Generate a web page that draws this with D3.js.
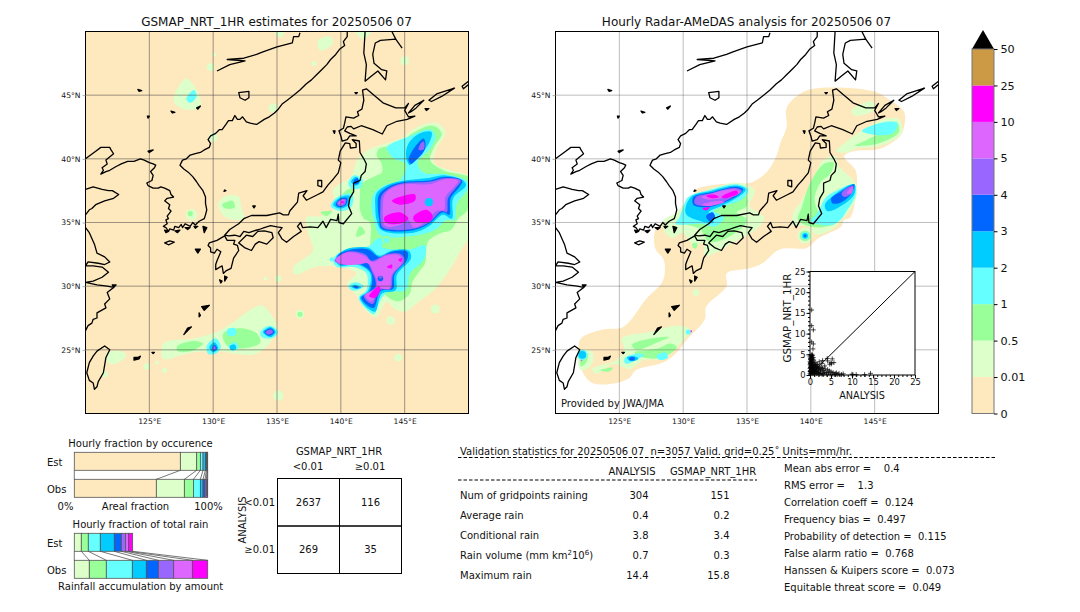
<![CDATA[<!DOCTYPE html>
<html>
<head>
<meta charset="utf-8">
<script src="https://cdnjs.cloudflare.com/ajax/libs/d3/7.8.5/d3.min.js"></script>
<style>
html, body { margin: 0; padding: 0; background: #fff; overflow: hidden; }
svg { display: block; }
text { font-family: "DejaVu Sans", sans-serif; fill: #111; }
</style>
</head>
<body>
<div id="chart"></div>
<script>
// ---- rain classes
var classLabels = ["0", "0.01", "0.5", "1", "2", "3", "4", "5", "10", "25", "50"];
var classColors = ["#FEE8BE", "#DDFFC9", "#99FF99", "#66FFFF", "#00CCFF", "#0066FF", "#9966FF", "#DD66FF", "#FF00FF", "#CC9944"];

var lonTicks = [125, 130, 135, 140, 145];
var latTicks = [25, 30, 35, 40, 45];

// ---- coastline, [lon, lat]
var coastMainland = [[140.5,50],[140.5,49.6],[140.2,49.2],[140.3,48.9],[139.9,48.6],[139.6,48.2],[139.2,47.8],[138.9,47.4],[138.5,47],[138.1,46.6],[137.7,46.2],[137.3,45.9],[136.8,45.4],[136.3,45],[135.8,44.6],[135.4,44.3],[135.1,43.9],[134.8,43.6],[134.4,43.3],[134,43.1],[133.4,42.7],[132.9,42.8],[132.6,42.9],[132.3,43.3],[132.1,43.1],[131.9,43.1],[131.7,43.4],[131.5,43],[131.2,43],[131,42.7],[130.7,42.3],[130.5,42.3],[130.2,42],[129.8,41.8],[129.6,41.5],[129.8,41.2],[129.7,40.9],[129.3,40.7],[129,40.5],[128.6,40.4],[128.2,40.3],[127.9,40],[127.6,39.9],[127.5,39.7],[127.4,39.5],[127.6,39.3],[127.7,39.2],[128.1,38.9],[128.4,38.6],[128.7,38.2],[128.9,37.9],[129.2,37.5],[129.4,37],[129.4,36.5],[129.5,36],[129.4,35.6],[129.3,35.3],[128.9,35.1],[128.6,34.8],[128.4,35],[128.2,34.7],[127.8,34.9],[127.6,34.6],[127.5,34.85],[127.3,34.6],[127,34.7],[126.9,34.4],[126.6,34.5],[126.5,34.3],[126.3,34.6],[126.1,34.7],[126.4,34.9],[126.3,35.2],[126.5,35.3],[126.4,35.5],[126.7,35.9],[126.5,36.1],[126.6,36.4],[126.2,36.7],[126.4,36.9],[126.9,37],[126.7,37.2],[126.6,37.5],[126.2,37.7],[125.9,37.8],[125.7,37.7],[125.3,37.7],[124.9,37.9],[124.8,38.1],[125.2,38.3],[125.3,38.7],[125.1,39],[125.4,39.3],[125.5,39.5],[125.3,39.6],[125,39.7],[124.6,39.9],[124.3,40],[123.8,39.8],[123.3,39.8],[122.8,39.6],[122.4,39.4],[121.9,39.1],[121.6,39],[121.2,38.8],[121.4,39.1],[121.3,39.3],[121.7,39.6],[121.6,39.9],[122.2,40.4],[122,40.7],[121.9,40.9],[121.5,40.9],[121.2,40.9],[120.8,40.6],[120.4,40.3],[120,40]];
var coastShandong = [[120,37.6],[120.6,37.8],[121.3,37.6],[121.8,37.5],[122.1,37.5],[122.6,37.2],[122.2,36.9],[121.5,36.7],[120.8,36.4],[120.5,36.1],[120.3,36],[120,35.6]];
var coastChina = [[120,34.6],[120.3,34.2],[120.7,33.3],[120.9,32.6],[121.5,32.3],[121.9,31.9],[121.5,31.7],[121,31.8],[120.2,31.9],[120,31.6],[120.6,31.6],[121.3,31.5],[121.8,31.1],[121.3,30.7],[120.6,30.4],[120,30.3],[120.9,30.1],[121.7,30],[122.2,29.9],[121.7,29.5],[121.9,29],[121.5,28.6],[121.6,28.3],[120.9,27.9],[120.9,27.5],[120.6,27.4],[120.5,27.1],[120.2,26.9],[120,26.5]];
var coastTaiwan = [[121.5,25.3],[121.9,25],[121.6,24.4],[121.5,23.8],[121.4,23.2],[121,22.5],[120.9,22.1],[120.7,21.9],[120.6,22.4],[120.3,22.6],[120.1,23.2],[120.3,24],[120.6,24.5],[120.9,24.9]];
var coastAmur = [[136.8,49.9],[136.7,49.6],[136.3,49.6],[136.2,49.1],[135,48.8],[133.9,48.4],[133.4,48.2],[132.4,47.9],[131.1,47.8],[132.5,47.7],[131.3,47.4],[130.3,46.9]];
var coastKhanka = [[132,45.2],[132.8,45.3],[132.8,44.8],[132.5,44.6],[132.1,44.8]];
var coastHokkaido = [[141.7,45.4],[142,45.5],[142.6,45],[143.3,44.4],[144.3,44],[145,44],[145.3,44.35],[145,43.8],[145.3,43.3],[145.8,43.35],[145.2,43.1],[144.4,42.95],[143.6,42.6],[143.25,41.95],[142.5,42.3],[141.6,42.6],[141,42.35],[140.8,42.55],[140.5,42.5],[140.3,42.2],[140.7,42],[141.2,41.8],[140.7,41.8],[140.5,41.5],[140.1,41.4],[140,41.8],[139.85,42.2],[140.2,42.4],[140.3,42.8],[140.4,43.3],[141,43.2],[141.4,43.4],[141.3,43.7],[141.65,43.9],[141.8,44.6]];
var coastHonshu = [[130.9,34],[131.2,33.95],[131.7,34],[132.1,33.9],[132.4,34.3],[132.8,34.2],[133.2,34.35],[133.6,34.45],[134,34.6],[134.5,34.75],[135,34.65],[135.4,34.6],[135.1,34.2],[135.4,33.7],[135.75,33.45],[136.3,33.9],[136.9,34.3],[136.6,34.7],[136.85,35],[137,34.6],[137.6,34.65],[138.2,34.6],[138.6,35.1],[138.85,34.6],[139.2,35.25],[139.7,35.15],[139.8,35.65],[139.85,35],[140.2,34.9],[140.85,35.7],[140.6,36.3],[140.7,36.9],[141,37.4],[141,38.1],[141.5,38.3],[141.6,38.7],[141.9,39],[142,39.6],[141.8,40],[141.5,40.5],[141.45,41.4],[140.9,41.5],[141.2,41.2],[141.2,40.9],[140.75,40.85],[140.7,41.2],[140.35,41.25],[139.95,40.6],[139.8,39.9],[140,39.7],[139.8,38.9],[139.4,38.4],[139,37.95],[138.6,37.4],[138.2,37.2],[137.3,36.75],[137.05,37.1],[137.35,37.5],[136.7,37.3],[136.6,36.6],[136,35.9],[135.9,35.6],[135.5,35.6],[135.2,35.75],[134.2,35.55],[133,35.55],[132.4,35.3],[132,34.9],[131.3,34.45]];
var coastKyushu = [[130.9,33.95],[131.1,33.6],[131.7,33.6],[131.6,33.3],[131.9,33.2],[132,32.8],[131.6,32.2],[131.4,31.4],[131,31.2],[130.8,31],[130.7,31.6],[130.2,31.3],[130.2,31.7],[130.3,32],[130.6,32.7],[130.3,32.9],[130.1,32.6],[129.8,32.7],[129.8,33],[129.6,33.2],[129.7,33.4],[130.3,33.6]];
var coastShikoku = [[132,33.4],[132.6,34],[133.1,33.9],[133.5,34.3],[134,34.35],[134.6,34.2],[134.7,33.8],[134.2,33.3],[133.6,33.5],[133.3,33.3],[133,32.8],[132.5,33]];
var coastSakhalinA = [[141.9,50],[141.8,48.3],[142,47.4],[141.9,46.1],[142.4,46.5],[142.9,46.9],[143.5,46.2],[143.6,46.9],[143.2,47],[142.6,47.5],[142.5,48.2],[142.7,49.1],[143.1,49.3],[144.3,49.4],[144.8,48.7]];
var coastSakhalinB = [[144,50],[144.3,49.4]];
// islands drawn as an outline
var outlineIslands = [
  [[138.2,38.3],[138.5,38.3],[138.5,37.8],[138.2,37.9]],
  [[126.2,33.4],[126.6,33.55],[126.95,33.45],[126.5,33.25]],
  [[130.5,30.5],[130.7,30.4],[130.6,30.25]],
  [[145.3,43.6],[145.8,44.2],[146.5,44.6],[145.9,44],[145.5,43.7]],
  [[146.9,44.6],[147.5,45.1],[148.9,45.55],[147.9,44.9],[147.1,44.5]],
  [[149.5,45.7],[150,46.1],[150.2,46],[149.6,45.5]]
];
// islands so small that the line fills them
var tinyIslands = [
  [[129.2,34.7],[129.5,34.6],[129.3,34.2]],
  [[128.6,32.9],[129,32.9],[128.8,32.6]],
  [[130.9,30.8],[131.1,30.7],[130.9,30.4]],
  [[127.7,26.2],[128.3,26.8],[128,26.7],[127.8,26.35]],
  [[129.1,28.4],[129.7,28.5],[129.3,28.1]],
  [[128.9,27.9],[129,27.7],[128.9,27.6]],
  [[125.2,24.8],[125.4,24.8],[125.3,24.7]],
  [[123.8,24.4],[124.1,24.4],[124.3,24.5],[124.2,24.3],[123.8,24.2]],
  [[124.1,45.45],[124.4,45.35],[124.2,45.3]],
  [[126.7,43.75],[127,43.65],[126.8,43.6]],
  [[128.7,44],[129,44.15],[128.8,43.9]],
  [[124.85,43.35],[125,43.35],[124.9,43.2]],
  [[124.9,40.6],[125.3,40.7],[125,40.5]],
  [[141.1,45.2],[141.3,45.2],[141.2,45.1]],
  [[139.4,42.2],[139.55,42.2],[139.5,42]],
  [[146.6,43.95],[146.9,43.95],[146.7,43.8]],
  [[131,37.5],[130.9,37.55],[130.85,37.45]],
  [[133.1,36.3],[133.3,36.3],[133.2,36.15]],
  [[126.2,34.4],[126.5,34.3],[126.3,34.2]],
  [[127,34.35],[127.4,34.4],[127.2,34.2]],
  [[127.8,34.6],[128.2,34.6],[128,34.45]],
  [[128.5,34.7],[128.8,34.7],[128.6,34.55]],
  [[122.1,30.1],[122.4,30.1],[122.2,29.9]]
];

// ---- rain bands of the estimate panel, one list of polygons per class
var estLevel1 = [
  [[142.3,40.8],[143.5,41.2],[144.7,41.6],[146,42.5],[147.6,42.8],[148.2,42],[147.6,41],[147.3,39.7],[148.3,39.2],[150.3,38.4],[150.3,34.4],[149.4,32.8],[148.6,31.4],[147.4,29.8],[146,28.7],[145,28],[144.2,28.2],[143.6,28.8],[142.8,27.6],[142,28],[141.3,29.2],[140.5,30.2],[141.2,31],[140,31.5],[138,31.5],[136.4,30.9],[136.3,31.5],[137.8,32.8],[137.5,34],[137.3,35.4],[138.5,35.5],[139.6,36.2],[139.4,37.6],[140.8,38.6],[141.3,39.9]],
  [[130.4,36.5],[131,37.1],[132,37],[132.2,36.2],[132.4,35.3],[131.2,35.3],[130.6,35.8]],
  [[138.2,49.3],[139.2,49.6],[139.4,49.1],[138.4,48.5]],
  [[141,50.2],[141.8,49.4],[142.4,50.2]],
  [[126.9,44.6],[127.9,46.3],[128.7,45.4],[129,44.1],[127.7,43.9]],
  [[126.1,25.5],[128.5,25.9],[130.5,26.5],[133.7,28.5],[134.2,28.2],[135,26.9],[135,26.4],[133.4,24.7],[130,24.9],[127.9,24.7],[126.1,24.3]],
  [[121.6,24.7],[122.7,24.9],[123.2,24.6],[122.6,24],[121.9,23.9]]
];
var estLevel2 = [
  [[143,40.8],[144.5,41.1],[145.6,42],[147.2,42.6],[147.9,42],[147.3,40.9],[147,39.9],[148,39.1],[150.3,38.4],[150.3,36.6],[149.8,35.8],[149.2,35.3],[148.6,34.4],[147.9,34.2],[146.9,33.6],[146.7,33],[146.6,31.8],[146.1,31.1],[145.6,30.3],[145.4,29.4],[144.5,28.8],[143.6,29.2],[142.6,30.5],[142.3,33],[142.3,35],[141.8,35.3],[141.5,36],[141.5,37],[141.6,38],[142.6,38.6],[143.2,38.9],[143.2,39.6],[142.8,40.3]],
  [[130.7,36.4],[131.5,36.7],[131.7,36.2],[131,36.1]],
  [[130.8,26.3],[132.1,26.7],[133.4,26.3],[133.7,25.6],[132.9,25.2],[131.3,25.2],[130.8,25.8]],
  [[127.2,25.3],[128.5,25.7],[129.2,25.5],[128.3,24.9],[127.2,24.9]],
  [[139.9,36],[140.7,36.9],[141.1,37.7],[140.4,37.5],[139.8,36.5]],
  [[141.5,34.7],[141.9,34.2],[141.2,33.9]],
  [[138.4,35.8],[139.3,35.9],[138.9,35.5]]
];
var estLevel3 = [
  [[143.6,40.9],[145.7,41.9],[147,42.3],[147.4,41.8],[147,40.8],[146,39.7],[146.5,38.9],[148.1,38.8],[149.8,38.3],[150.1,37.9],[149.1,36.5],[148.9,35.2],[148.3,35.2],[147.3,34.4],[145.2,33.9],[143.1,34],[142.6,35.2],[142.4,36.3],[142.6,37.3],[143.4,37.9],[144.7,38.4],[145.1,39.6],[144.2,40],[143.8,40.4]],
  [[139.4,32.1],[140.2,32.8],[142.3,33.2],[142.8,33.7],[143.6,33.7],[143.2,33.1],[145.4,32.9],[146.6,33.2],[146.5,32.1],[145.4,31],[145.1,29.7],[143.6,29.5],[143,28.7],[142.6,27.8],[142,28.2],[141.4,29.1],[142,29.7],[142,31],[141,31.5],[139.7,31.5]],
  [[139.2,36.3],[139.9,37.1],[140.9,37.2],[140.8,36.2],[140,35.9]],
  [[140.6,38.1],[141,38.7],[141.7,38.4],[141.5,37.7],[140.8,37.7]],
  [[131.1,26.6],[131.7,26.7],[131.8,26.2],[131.2,26.1]],
  [[131.2,25.3],[131.7,25.6],[132,25.2],[131.5,24.9]],
  [[129.5,25.3],[130.2,25.9],[130.6,25.2],[130.2,24.7],[129.6,24.7]],
  [[133.7,26.4],[134.4,26.9],[135.1,26.4],[134.6,25.9],[133.8,26]],
  [[127.9,44.7],[128.5,45.4],[128.7,44.9],[128.2,44.4]],
  [[140.6,30],[141.1,30.3],[141.8,30],[141.3,29.7],[140.8,29.7]]
];
var estLevel4 = [
  [[145.3,41.2],[146.2,42],[147.1,42.1],[146.9,41.2],[145.8,39.9],[145.4,39.5],[145.1,40.2]],
  [[142.8,37.3],[143.8,38],[145,38.3],[146.9,38.5],[148.2,38.7],[149.6,38.3],[149.8,37.9],[148.8,36.9],[148.7,35.3],[148,35.6],[146.9,34.7],[145.7,34.2],[143.2,34.4],[142.8,35.2],[142.7,36.2]],
  [[139.6,32.2],[140.4,32.9],[142.2,33],[143,32.4],[144,32.8],[145.3,32.8],[145.5,32.2],[144.4,30.9],[144.3,29.7],[143.2,29.4],[142.7,28],[142.2,28.2],[141.5,29.1],[142.1,29.6],[142.3,31],[141.2,31.7],[139.9,31.6]],
  [[139.4,36.4],[140,37],[140.7,37.1],[140.6,36.4],[139.9,36.1]],
  [[140.8,38.2],[141.2,38.6],[141.5,38.2],[141.2,37.9]],
  [[129.7,25.2],[130.1,25.6],[130.4,25.1],[130,24.8]],
  [[133.9,26.4],[134.5,26.8],[134.9,26.4],[134.5,26]],
  [[131.3,25.3],[131.7,25.4],[131.8,25.1],[131.4,25]],
  [[140.8,30],[141.2,30.1],[141.6,29.9],[141.1,29.8]]
];
var estLevel5 = [
  [[145.3,39.9],[145.7,40.8],[146.5,41.6],[146.6,40.8],[145.9,39.9],[145.5,39.6]],
  [[143,37.2],[143.9,37.9],[145,38.2],[146.9,38.3],[148.2,38.6],[149.5,38.3],[149.3,37.8],[148.6,36.9],[148.5,35.6],[148,35.8],[146.9,34.9],[145.7,34.4],[143.2,34.5],[143,35.3],[142.9,36.2]],
  [[139.7,32.3],[140.5,32.8],[142.1,32.9],[143,32.3],[144,32.7],[145.2,32.7],[145.2,32.1],[144.2,30.9],[144.1,29.8],[143.1,29.6],[142.6,28.3],[142.2,28.4],[141.6,29.1],[142.2,29.5],[142.4,31],[141.3,31.8],[140,31.7]],
  [[139.6,36.4],[140,36.9],[140.5,36.9],[140.4,36.4],[139.9,36.2]],
  [[129.9,25.1],[130.1,25.4],[130.3,25.1],[130,24.9]],
  [[134,26.4],[134.5,26.7],[134.8,26.4],[134.4,26.1]],
  [[141,30],[141.3,30],[141.4,29.85],[141.1,29.85]],
  [[141,38.3],[141.3,38.5],[141.4,38.1],[141.1,38]]
];
var estLevel6 = [
  [[146.1,40.7],[146.25,41.2],[146.5,41.35],[146.5,40.75]],
  [[143.2,37.1],[144,37.8],[145,38.1],[146.9,38.2],[148.2,38.5],[149.4,38.3],[149,37.7],[148.4,36.9],[148.3,35.8],[147.9,35.9],[146.9,35],[145.7,34.5],[143.3,34.6],[143.1,35.3],[143.1,36.2]],
  [[139.5,32],[140.5,32.7],[141.9,32.5],[142.4,32],[143.6,32.5],[144.7,32.5],[145,32],[144.1,30.9],[143.9,29.8],[143,29.7],[142.5,28.6],[141.8,29.2],[142.7,29.9],[142.7,30.5],[142.4,31.2],[142.1,31.8],[141.4,31.8],[140.1,31.7]],
  [[139.7,36.5],[140,36.8],[140.4,36.8],[140.3,36.4],[139.9,36.3]],
  [[134.1,26.4],[134.5,26.6],[134.7,26.4],[134.3,26.2]],
  [[129.95,25.1],[130.1,25.3],[130.2,25.1],[130,25]]
];
var estLevel7 = [
  [[143.4,37.1],[144,37.7],[145,38],[146.9,38],[148.2,38.4],[149.2,38.3],[148.8,37.7],[148.2,37],[148.1,36],[147.5,35.9],[146.7,35.1],[145.7,34.6],[145.3,35.2],[144.6,34.8],[143.5,34.7],[143.3,35.5],[143.3,36.3]],
  [[139.6,32.05],[140.5,32.65],[141.8,32.4],[142.5,31.9],[143.6,32.4],[144.6,32.4],[144.8,31.9],[144,30.9],[143.8,29.8],[143,29.8],[142.4,28.8],[141.9,29.3],[142.8,29.9],[142.8,30.5],[142.5,31.2],[142.1,31.8],[141.4,31.7],[140.2,31.7]],
  [[139.8,36.5],[140.1,36.8],[140.3,36.7],[140.1,36.4]]
];
var estLevel8 = [
  [[144,36.7],[145.8,37.2],[145.8,36.7],[144.6,36.4]],
  [[143.4,35.4],[144.6,35.8],[145.3,35.3],[144.6,34.9],[143.5,35]],
  [[145.7,35.5],[146.7,36],[147.2,35.5],[147,35.1],[146,35],[145.7,35.2]],
  [[142.2,29.2],[143,30],[143.1,29.7],[142.7,29.1]],
  [[143.6,31.5],[144,31.7],[144,31.4]],
  [[144.5,32.1],[144.8,32.2],[144.7,31.9]],
  [[140,36.6],[140.2,36.7],[140.2,36.5]]
];
// [class, lon, lat, radius in degrees], small cells on top of the bands
var estSpots = [
  [1, 130, 41.7, 0.35], [1, 134.7, 44, 0.35], [1, 137.9, 47.5, 0.2], [1, 129.8, 47.2, 0.3], [1, 130.1, 48.2, 0.15],
  [1, 145, 47.7, 0.35], [1, 135.1, 21.4, 0.4], [1, 144.5, 24.4, 0.3], [1, 147.4, 28.2, 0.35], [1, 143.9, 27.3, 0.35],
  [1, 136.8, 27.8, 0.35], [2, 136.8, 27.8, 0.2], [1, 135.1, 30.6, 0.25], [1, 134.1, 30.6, 0.15], [1, 124.8, 23.7, 0.25],
  [1, 125.6, 24, 0.15], [1, 126.2, 23.4, 0.2], [1, 128.3, 35.6, 0.45], [1, 135.2, 49.9, 0.35], [1, 121.5, 23.1, 0.25],
  [2, 128.2, 35.7, 0.2], [2, 143.6, 33.6, 0.35], [3, 143.6, 33.6, 0.2], [3, 139.3, 32.1, 0.18],
  [5, 146.9, 36.6, 0.25], [4, 146.9, 36.6, 0.32], [5, 143.1, 30.6, 0.22], [6, 143.1, 30.7, 0.1]
];

// ---- rain bands of the radar panel
var obsCoverage = [
  [[138.1,44],[139,45],[140.2,45.5],[144.9,45.3],[146.2,44.6],[147.3,43.7],[147.3,42.5],[147,41.8],[145.4,40.8],[143.3,40.6],[142.6,40.2],[143.5,39.1],[143.6,37.8],[143.1,35.4],[142.6,35.2],[142.4,34.7],[140.5,33.7],[139.7,33],[137.6,32.9],[136.2,31.8],[135.2,31.4],[133.4,31],[133.4,30],[131.8,28.4],[131.7,27.4],[130.2,25.7],[129.5,24.8],[128.4,24],[126.3,23.4],[125.8,22.8],[124.8,22.4],[122.9,22.4],[122,23.5],[121.8,25],[122,25.9],[123.7,26.6],[125.3,26.8],[127.1,29],[128.4,30.4],[128.5,32],[127.8,33],[127.9,34.6],[129.2,35.4],[130.8,37.1],[131,37.6],[134.2,38.1],[135.2,38.1],[136.5,38.9],[137.3,40.2],[137.6,41.2],[138.1,42.5]]
];
var obsLevel1 = [
  [[141,39.9],[141.9,40.2],[142.2,39.4],[143.5,38.1],[143.6,37.1],[142.8,35.6],[142.4,35.2],[142,34.7],[140.5,34.05],[139.7,34.7],[138.6,34.8],[138.6,35.7],[138.8,36.1],[139.2,36.6],[140.2,38.4]],
  [[130.8,37],[132.6,37.8],[134.5,38.1],[135.6,37.5],[135.2,36.3],[136.3,35.5],[136.3,35.2],[135.8,34.5],[133.9,33.4],[132.9,32.8],[131.7,32.4],[131.6,33.4],[130.8,33.3],[129.9,34.2],[129.2,33.8],[128.6,34.2],[128.4,35.1],[129.5,35.8],[130,36.4]],
  [[142,40.6],[142.6,41.2],[143.5,41.9],[145.7,43.1],[146.9,43.1],[147.1,42],[145.4,41],[143.5,40.8],[142.8,40.5]],
  [[143.2,43.8],[144.8,44.5],[145,43.9],[143.4,43.4]],
  [[125.2,25.9],[127.4,26.4],[129.5,26.9],[130.5,26.6],[129.7,25.4],[128.4,24.3],[126.9,24.2],[125.8,23.5],[124.5,23.9],[123.2,23.1],[122.9,23.5],[124.8,24.2],[125.4,25]],
  [[121.8,25],[122.9,24.8],[122.8,23.8],[122,23.4]]
];
var obsLevel2 = [
  [[141,39.6],[141.8,39.7],[141.5,38.8],[140.8,38.2],[140.3,36.8],[140.8,35.6],[142,35],[140.5,34.6],[139,35.2],[139.3,36.2],[139.9,38]],
  [[143.4,41],[145,41.8],[146.7,42.9],[146.9,42.1],[145.3,41.2],[143.5,41]],
  [[130,35.8],[131,36.5],[133,37],[134.7,37.6],[135,36.3],[134.2,35.8],[135,35.2],[134.5,34.5],[133,33.6],[132,33.5],[131.3,34.5],[130,35]],
  [[126.2,24.8],[128,25.1],[129,25.5],[129.5,25.2],[128.4,24.4],[126.9,24.4]],
  [[130.8,33.2],[131.1,33.4],[131,32.9]],
  [[126,25.4],[127.6,25.9],[128.9,26],[128,25.6],[126.3,25]],
  [[122,24.9],[122.5,24.7],[122.4,24],[122,23.7]],
  [[123.5,23.4],[124.5,23.6],[124.2,23.3]]
];
var obsLevel3 = [
  [[130.4,37],[132.2,37.6],[134.2,38],[135.1,37.6],[134.7,36.9],[133,36.2],[132.4,35.9],[133.2,35.4],[132.5,34.7],[131.4,34.9],[129.4,34.9],[129.7,35.4],[130,36.2]],
  [[140.5,35.7],[141.2,37],[142,37.5],[143.4,38],[143.5,37.1],[142.8,35.9],[142.4,35.3],[141.6,34.8],[140,35.1]],
  [[144,42.2],[145.8,42.9],[146.8,42.8],[146.4,42],[144.9,41.9]],
  [[125.4,24.3],[126.3,24.7],[126.9,24.6],[126.3,24.2],[125.5,23.9]],
  [[127.9,24.5],[128.6,24.8],[128.8,24.4],[128.2,24.2]]
];
var obsLevel4 = [
  [[130.6,37],[132.2,37.5],[134.2,37.9],[134.9,37.6],[134.3,37],[133,36.3],[132,35.8],[132.4,35],[131.4,35.1],[130.2,35.7]],
  [[141.1,36.4],[142,37.3],[143.4,38],[143.4,37.2],[142.2,36.2],[141.3,35.9]],
  [[125.6,24.4],[126.2,24.5],[126.5,24.3],[125.9,24.1]]
];
var obsLevel5 = [
  [[130.8,37],[132.3,37.4],[134.1,37.8],[134.7,37.6],[134.1,37],[133,36.5],[131.9,36.2],[130.8,36.4]],
  [[131.8,35.5],[132.3,35.8],[132.5,35.4],[132.1,35.1]],
  [[141.6,36.9],[142.3,37.4],[143.4,38],[143.2,37.3],[142.4,36.6],[141.7,36.5]],
  [[125.8,24.4],[126.2,24.4],[126.2,24.2],[125.8,24.2]]
];
var obsLevel6 = [
  [[131,37],[132.2,37.3],[134,37.7],[134.6,37.5],[133.9,37],[133.1,36.6],[131.8,36.3],[130.9,36.5]],
  [[142.4,37.3],[143.3,37.9],[143.2,37.3],[142.6,37]]
];
var obsLevel7 = [
  [[131.4,37],[132.3,37.3],[133,37.5],[134.1,37.6],[134.5,37.4],[133.8,37],[133,36.9],[131.9,36.8]],
  [[131.5,36.4],[132.8,36.7],[133.2,36.6],[132,36.3]],
  [[142.8,37.3],[143.3,37.8],[143.2,37.3]],
  [[122,25],[122.3,24.9],[122.2,24.6]],
  [[122,24.4],[122.2,24.3],[122,24.1]]
];
var obsLevel8 = [
  [[131.8,37.1],[132.4,37.2],[132.8,37],[132.2,36.9]],
  [[133,37],[134.2,37.5],[134.3,37.3],[133.7,37],[133.2,36.9]],
  [[131.5,36.1],[132.1,36.2],[131.8,35.95]],
  [[122,24.9],[122.2,24.85],[122.1,24.7]],
  [[130.5,26.5],[130.7,26.5],[130.6,26.35]]
];
var obsSpots = [
  [1, 139.55, 33.96, 0.6], [2, 139.55, 33.96, 0.42], [3, 139.55, 33.96, 0.3], [4, 139.55, 33.96, 0.22], [5, 139.55, 33.96, 0.1],
  [1, 131, 29.5, 0.25], [2, 130.9, 33.2, 0.2], [3, 130.4, 26.4, 0.2], [3, 122.1, 24.6, 0.4], [4, 122.1, 24.6, 0.3]
];

// ---- scatter of the inset, [analysis, gsmap]
var scatterPoints = [[0.4,15.7],[0.4,11.9],[0.8,10.9],[0.4,8],[0.8,7.5],[0.7,6.3],[14.4,0.4],[13,0.1],[10.2,0.1],[10,0.2],[11,0.1],[5.3,3.9],[4.1,4],[5.7,3],[5.1,2.7],[4.7,2.6],[5,3],[4.2,3.4],[3,3.5],[2.8,2.8],[3.5,2.2],[2.2,3.2],[7.9,0.3],[7.5,0.1],[6.9,0.4],[6.3,0.5],[6,0.4],[5.5,0.6],[5,0.8],[4.6,1],[4.2,1.3],[3.9,0.6],[3.6,1.5],[3.2,1.1],[3,0.4],[2.7,1.8],[2.5,0.9],[2.3,1.5],[2.1,2.1],[2,0.6],[1.9,1.2],[1.8,2.5],[1.6,0.3],[1.5,1.7],[1.4,0.9],[1.3,2.3],[1.2,3.1],[1.1,1.4],[1,0.5],[1,2.7],[0.9,3.6],[0.9,1],[0.8,4.2],[0.8,2],[0.7,0.3],[0.7,1.5],[0.7,3],[0.6,4.7],[0.6,3.8],[0.6,2.4],[0.6,0.7],[0.5,5],[0.5,4.3],[0.5,3.3],[0.5,1.9],[0.5,1.1],[0.4,4.6],[0.4,3.9],[0.4,2.9],[0.4,2.1],[0.4,1.3],[0.4,0.4],[0.3,4.8],[0.3,3.5],[0.3,2.6],[0.3,1.7],[0.3,0.8],[0.2,4.1],[0.2,3.1],[0.2,2.3],[0.2,1.5],[0.2,0.6],[0.1,3.7],[0.1,2.8],[0.1,1.9],[0.1,1.1],[0.1,0.2],[0,4.4],[0,3.2],[0,2.5],[0,1.6],[0,0.9],[0,0.3],[1.1,0.2],[1.3,0.7],[1.6,1],[1.8,0.5],[2.2,0.2],[2.4,0.4],[2.8,0.2],[3.3,0.3],[3.5,0.7],[4,0.2],[4.4,0.5],[4.8,0.2],[5.3,0.2],[5.8,0.1],[6.6,0.1],[1.2,1.9],[1.5,2.6],[0.9,2.4],[1,1.7],[0.8,0.8],[0.6,1.5],[1.4,1.4],[1.7,1.9],[2,1.5],[2.6,1.3],[3,1.6]];
var scatterTicks = [0, 5, 10, 15, 20, 25];
var scatterMinor = d3.range(0, 26);

// ---- bottom left fractions, percent of the bar per class
var occurEst = [79.5, 12.25, 2.75, 2, 1.75, 0.8, 0.5, 0.3, 0.15];
var occurObs = [61.5, 21, 6.8, 5.2, 2, 1.5, 1, 0.7, 0.3];
var rainEst = [5.25, 5.25, 9, 10.5, 5.25, 3.25, 2.25, 3];
var rainObs = [11.25, 12.75, 19.5, 10.5, 9, 11.5, 14, 11.5];

// ---- tables
var contingency = [[2637, 116], [269, 35]];
var statRows = ["Num of gridpoints raining", "Average rain", "Conditional rain", "Rain volume", "Maximum rain"];
var statAnalysis = ["304", "0.4", "3.8", "0.7", "14.4"];
var statGsmap = ["151", "0.2", "3.4", "0.3", "15.8"];
var scoreRows = ["Mean abs error =    0.4", "RMS error =    1.3", "Correlation coeff =  0.124", "Frequency bias =  0.497", "Probability of detection =  0.115", "False alarm ratio =  0.768", "Hanssen & Kuipers score =  0.073", "Equitable threat score =  0.049"];

var svg = d3.select("#chart").append("svg").attr("width", 1080).attr("height", 612);
var defs = svg.append("defs");

function label(g, x, y, s, size, anchor) {
  return g.append("text").attr("x", x).attr("y", y).attr("font-size", size)
    .attr("text-anchor", anchor || "start").attr("xml:space", "preserve").text(s);
}

// one map panel
function drawMap(id, left, title, background, coverage, levels, spots, gridColor) {
  var x = d3.scaleLinear().domain([120, 150]).range([left, left + 383]);
  var y = d3.scaleLinear().domain([20, 50]).range([413.5, 31.5]);
  var g = svg.append("g");
  defs.append("clipPath").attr("id", id).append("rect")
    .attr("x", left).attr("y", 31.5).attr("width", 383).attr("height", 382);
  var line = d3.line().x(function(d) { return x(d[0]); }).y(function(d) { return y(d[1]); });
  var blob = d3.line().x(line.x()).y(line.y()).curve(d3.curveCatmullRomClosed.alpha(0.5));
  var closed = d3.line().x(line.x()).y(line.y()).curve(d3.curveLinearClosed);

  g.append("rect").attr("x", left).attr("y", 31.5).attr("width", 383).attr("height", 382).attr("fill", background);
  var body = g.append("g").attr("clip-path", "url(#" + id + ")");

  coverage.forEach(function(p) { body.append("path").attr("d", blob(p)).attr("fill", classColors[0]); });
  levels.forEach(function(polys, i) {
    polys.forEach(function(p) { body.append("path").attr("d", blob(p)).attr("fill", classColors[i + 1]); });
  });
  spots.forEach(function(s) {
    body.append("circle").attr("cx", x(s[1])).attr("cy", y(s[2]))
      .attr("r", x(120 + s[3]) - x(120)).attr("fill", classColors[s[0]]);
  });

  // grid
  lonTicks.forEach(function(d) {
    body.append("line").attr("x1", x(d)).attr("x2", x(d)).attr("y1", 31.5).attr("y2", 413.5)
      .attr("stroke", gridColor).attr("stroke-width", 1);
  });
  latTicks.forEach(function(d) {
    body.append("line").attr("x1", left).attr("x2", left + 383).attr("y1", y(d)).attr("y2", y(d))
      .attr("stroke", gridColor).attr("stroke-width", 1);
  });

  // coast
  [coastMainland, coastShandong, coastChina, coastAmur, coastSakhalinA, coastSakhalinB].forEach(function(c) {
    body.append("path").attr("d", line(c)).attr("fill", "none").attr("stroke", "#000").attr("stroke-width", 1.3).attr("stroke-linejoin", "round");
  });
  [coastTaiwan, coastKhanka, coastHokkaido, coastHonshu, coastKyushu, coastShikoku].concat(outlineIslands).forEach(function(c) {
    body.append("path").attr("d", closed(c)).attr("fill", "none").attr("stroke", "#000").attr("stroke-width", 1.3).attr("stroke-linejoin", "round");
  });
  tinyIslands.forEach(function(c) {
    body.append("path").attr("d", closed(c)).attr("fill", "#000").attr("stroke", "#000").attr("stroke-width", 1.3).attr("stroke-linejoin", "round");
  });

  g.append("rect").attr("x", left).attr("y", 31.5).attr("width", 383).attr("height", 382)
    .attr("fill", "none").attr("stroke", "#000").attr("stroke-width", 1);

  var bottom = g.append("g").attr("transform", "translate(0,413.5)")
    .call(d3.axisBottom(x).tickValues(lonTicks).tickSize(0).tickPadding(5).tickFormat(function(d) { return d + "°E"; }));
  var side = g.append("g").attr("transform", "translate(" + left + ",0)")
    .call(d3.axisLeft(y).tickValues(latTicks).tickSize(3).tickPadding(2).tickFormat(function(d) { return d + "°N"; }));
  bottom.select(".domain").remove();
  side.select(".domain").remove();
  side.selectAll("line").attr("stroke", "#aaa");
  g.selectAll(".tick text").attr("font-size", 7.6).attr("font-family", "DejaVu Sans").attr("fill", "#111");

  label(g, left + 191, 26, title, 12, "middle");
  return { x: x, y: y, g: g };
}

var estLevels = [estLevel1, estLevel2, estLevel3, estLevel4, estLevel5, estLevel6, estLevel7, estLevel8];
var obsLevels = [obsLevel1, obsLevel2, obsLevel3, obsLevel4, obsLevel5, obsLevel6, obsLevel7, obsLevel8];

drawMap("clipEst", 85.5, "GSMAP_NRT_1HR estimates for 20250506 07", classColors[0], [], estLevels, estSpots, "rgba(60,60,60,0.5)");
var obsMap = drawMap("clipObs", 555.5, "Hourly Radar-AMeDAS analysis for 20250506 07", "#fff", obsCoverage, obsLevels, obsSpots, "rgba(90,90,90,0.4)");
label(obsMap.g, 561, 407, "Provided by JWA/JMA", 10);

// inset scatter
(function() {
  var sx = d3.scaleLinear().domain([0, 25]).range([810, 915]);
  var sy = d3.scaleLinear().domain([0, 25]).range([375, 271.5]);
  var g = svg.append("g");
  g.append("rect").attr("x", 810).attr("y", 271.5).attr("width", 105).attr("height", 103.5).attr("fill", "#fff").attr("stroke", "#000");
  g.append("line").attr("x1", sx(0)).attr("y1", sy(0)).attr("x2", sx(25)).attr("y2", sy(25)).attr("stroke", "#000");
  g.selectAll(".pt").data(scatterPoints).enter().append("path").attr("class", "pt")
    .attr("d", "M-2.4,0H2.4M0,-2.4V2.4").attr("stroke", "#000").attr("stroke-width", 0.7)
    .attr("transform", function(d) { return "translate(" + sx(d[0]) + "," + sy(d[1]) + ")"; });
  var ax = g.append("g").attr("transform", "translate(0,375)").call(d3.axisBottom(sx).tickValues(scatterTicks).tickSize(3.5).tickPadding(1));
  var ay = g.append("g").attr("transform", "translate(810,0)").call(d3.axisLeft(sy).tickValues(scatterTicks).tickSize(3.5).tickPadding(1));
  var mx = g.append("g").attr("transform", "translate(0,375)").call(d3.axisBottom(sx).tickValues(scatterMinor).tickSize(2).tickFormat(function() { return ""; }));
  var my = g.append("g").attr("transform", "translate(810,0)").call(d3.axisLeft(sy).tickValues(scatterMinor).tickSize(2).tickFormat(function() { return ""; }));
  [ax, ay, mx, my].forEach(function(a) { a.select(".domain").remove(); a.selectAll("line").attr("stroke", "#000"); });
  mx.selectAll("text").remove();
  my.selectAll("text").remove();
  g.selectAll(".tick text").attr("font-size", 8.4).attr("font-family", "DejaVu Sans").attr("fill", "#111");
  label(g, 862, 398.5, "ANALYSIS", 9.7, "middle");
  label(g, 0, 0, "GSMAP_NRT_1HR", 10.3, "middle").attr("transform", "translate(791,318) rotate(-90)");
})();

// colour bar
(function() {
  var cy = d3.scaleLinear().domain([0, 10]).range([413.5, 49]);
  var g = svg.append("g");
  classColors.forEach(function(c, i) {
    g.append("rect").attr("x", 972).attr("width", 22).attr("y", cy(i + 1)).attr("height", cy(i) - cy(i + 1)).attr("fill", c);
  });
  g.append("path").attr("d", d3.line()([[972, cy(10)], [983, 30], [994, cy(10)]]) + "Z").attr("fill", "#000");
  g.append("rect").attr("x", 972).attr("width", 22).attr("y", cy(10)).attr("height", cy(0) - cy(10))
    .attr("fill", "none").attr("stroke", "#777").attr("stroke-width", 1);
  var axis = g.append("g").attr("transform", "translate(994,0)")
    .call(d3.axisRight(cy).tickValues(d3.range(0, 11)).tickSize(3.5).tickPadding(3).tickFormat(function(d) { return classLabels[d]; }));
  axis.select(".domain").remove();
  axis.selectAll("line").attr("stroke", "#000");
  axis.selectAll("text").attr("font-size", 11.2).attr("font-family", "DejaVu Sans").attr("fill", "#111");
})();

// fraction bars
function drawFraction(top, est, obs, title) {
  var fx = d3.scaleLinear().domain([0, 100]).range([74.3, 207.7]);
  var g = svg.append("g");
  var rows = [{ vals: est, y: top }, { vals: obs, y: top + 27 }];
  rows.forEach(function(r) {
    var start = 0;
    r.vals.forEach(function(v, i) {
      var col = classColors[r.vals.length === 8 ? i + 1 : i];
      g.append("rect").attr("x", fx(start)).attr("y", r.y).attr("width", fx(start + v) - fx(start)).attr("height", 18)
        .attr("fill", col).attr("stroke", "#555").attr("stroke-width", 0.8);
      start += v;
    });
  });
  var ce = d3.cumsum(est), co = d3.cumsum(obs);
  ce.forEach(function(v, i) {
    g.append("line").attr("x1", fx(v)).attr("y1", top + 18).attr("x2", fx(co[i])).attr("y2", top + 27)
      .attr("stroke", "#555").attr("stroke-width", 0.8);
  });
  g.append("line").attr("x1", fx(0)).attr("y1", top + 18).attr("x2", fx(0)).attr("y2", top + 27).attr("stroke", "#555").attr("stroke-width", 0.8);
  label(g, 47, top + 13.5, "Est", 10);
  label(g, 47, top + 40.5, "Obs", 10);
  label(g, 140.5, top - 5, title, 10, "middle");
  return g;
}
var occurG = drawFraction(452.3, occurEst, occurObs, "Hourly fraction by occurence");
label(occurG, 65.5, 510, "0%", 10, "middle");
label(occurG, 135.5, 510, "Areal fraction", 10, "middle");
label(occurG, 208.5, 510, "100%", 10, "middle");
var rainG = drawFraction(533.3, rainEst, rainObs, "Hourly fraction of total rain");
label(rainG, 140.7, 590, "Rainfall accumulation by amount", 10, "middle");

// contingency table
(function() {
  var g = svg.append("g");
  var cx = d3.scaleLinear().domain([0, 2]).range([277.5, 401.5]);
  var cy = d3.scaleLinear().domain([0, 2]).range([478.5, 573.5]);
  g.selectAll("rect").data(d3.range(4)).enter().append("rect")
    .attr("x", function(d) { return cx(d % 2); }).attr("y", function(d) { return cy(Math.floor(d / 2)); })
    .attr("width", cx(1) - cx(0)).attr("height", cy(1) - cy(0)).attr("fill", "none").attr("stroke", "#000");
  contingency.forEach(function(r, i) {
    r.forEach(function(v, j) { label(g, cx(j + 0.5), cy(i + 0.5) + 3.5, String(v), 10, "middle"); });
  });
  label(g, 339, 455, "GSMAP_NRT_1HR", 10, "middle");
  label(g, 308, 470, "<0.01", 10, "middle");
  label(g, 370, 470, "≥0.01", 10, "middle");
  label(g, 275, 506, "<0.01", 10, "end");
  label(g, 275, 553, "≥0.01", 10, "end");
  label(g, 0, 0, "ANALYSIS", 10, "middle").attr("transform", "translate(246,520) rotate(-90)");
})();

// validation statistics
(function() {
  var g = svg.append("g");
  label(g, 460, 455, "Validation statistics for 20250506 07  n=3057 Valid. grid=0.25˚ Units=mm/hr.", 10);
  g.append("line").attr("x1", 458).attr("x2", 996).attr("y1", 457.5).attr("y2", 457.5).attr("stroke", "#000").attr("stroke-dasharray", "3.5,2");
  label(g, 632, 475, "ANALYSIS", 10, "middle");
  label(g, 713, 475, "GSMAP_NRT_1HR", 10, "middle");
  g.append("line").attr("x1", 458).attr("x2", 757).attr("y1", 480).attr("y2", 480).attr("stroke", "#000").attr("stroke-dasharray", "3.5,2");
  var rowY = d3.scalePoint().domain(statRows).range([499, 578.5]);
  statRows.forEach(function(r, i) {
    var t = label(g, 460, rowY(r), r, 10);
    if (r === "Rain volume") {
      t.text("Rain volume (mm km");
      t.append("tspan").attr("font-size", 7).attr("dy", -4).text("2");
      t.append("tspan").attr("dy", 4).text("10");
      t.append("tspan").attr("font-size", 7).attr("dy", -4).text("6");
      t.append("tspan").attr("dy", 4).text(")");
    }
    label(g, 648.5, rowY(r), statAnalysis[i], 10, "end");
    label(g, 729.5, rowY(r), statGsmap[i], 10, "end");
  });
  var scoreY = d3.scalePoint().domain(d3.range(8)).range([472, 591]);
  scoreRows.forEach(function(r, i) { label(g, 784, scoreY(i), r, 10); });
})();
</script>
</body>
</html>
]]>
